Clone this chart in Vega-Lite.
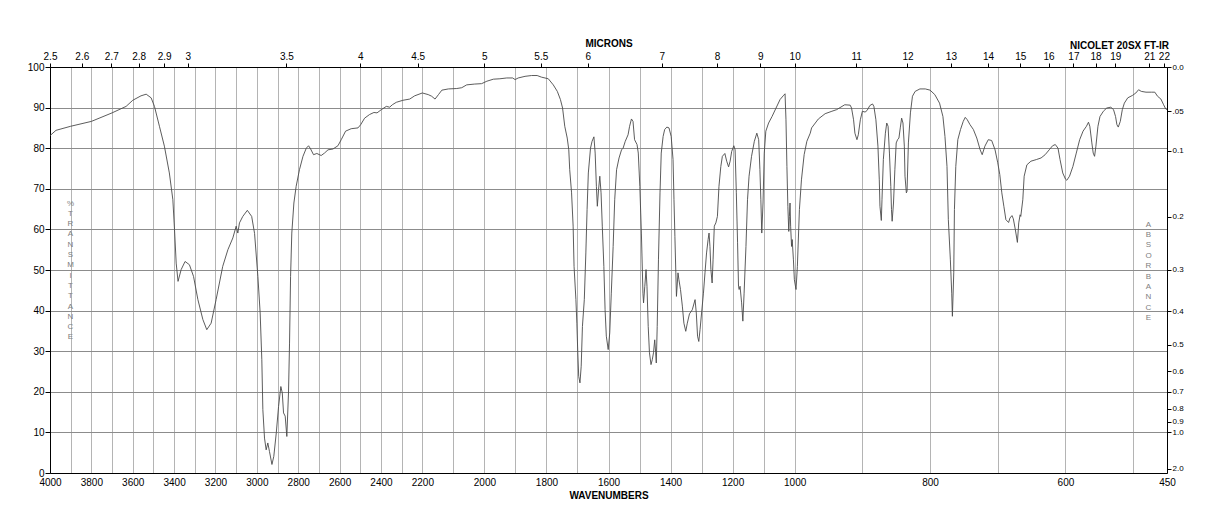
{
  "$schema": "https://vega.github.io/schema/vega-lite/v6.json",
  "autosize": {"type": "none"},
  "padding": {"left": 50, "top": 67, "right": 51, "bottom": 55},
  "width": 1117,
  "height": 406,
  "background": "white",
  "config": {"view": {"stroke": null}, "font": "Liberation Sans"},
  "title": {"text": "NICOLET 20SX FT-IR", "anchor": "end", "frame": "group", "fontSize": 10, "fontWeight": "bold", "color": "#000", "font": "Liberation Sans", "offset": 2, "dy": 15, "dx": 2},
  "data": {"values": [
    {"wn":4000,"t":83.1},{"wn":3971,"t":84.4},{"wn":3900,"t":85.4},{"wn":3800,"t":86.6},{"wn":3700,"t":88.7},{"wn":3632,"t":90.3},{"wn":3600,"t":91.8},{"wn":3560,"t":92.9},{"wn":3535,"t":93.3},{"wn":3511,"t":92.4},{"wn":3495,"t":90.3},{"wn":3471,"t":85.4},{"wn":3447,"t":80.5},{"wn":3423,"t":73.9},{"wn":3406,"t":67.3},{"wn":3398,"t":59.9},{"wn":3390,"t":51.7},{"wn":3381,"t":47.2},{"wn":3366,"t":50.1},{"wn":3347,"t":52.1},{"wn":3326,"t":51.3},{"wn":3306,"t":48.4},{"wn":3285,"t":42.7},{"wn":3261,"t":37.8},{"wn":3242,"t":35.3},{"wn":3221,"t":36.9},{"wn":3197,"t":42.7},{"wn":3165,"t":50.9},{"wn":3140,"t":55.0},{"wn":3116,"t":57.9},{"wn":3100,"t":60.8},{"wn":3092,"t":59.1},{"wn":3084,"t":61.6},{"wn":3068,"t":63.2},{"wn":3046,"t":64.7},{"wn":3025,"t":63.2},{"wn":3011,"t":59.0},{"wn":2995,"t":48.4},{"wn":2984,"t":39.4},{"wn":2976,"t":27.9},{"wn":2971,"t":15.6},{"wn":2963,"t":8.6},{"wn":2955,"t":5.7},{"wn":2947,"t":7.4},{"wn":2939,"t":5.3},{"wn":2927,"t":2.1},{"wn":2918,"t":4.1},{"wn":2906,"t":9.9},{"wn":2895,"t":16.4},{"wn":2884,"t":21.3},{"wn":2877,"t":19.7},{"wn":2871,"t":14.8},{"wn":2863,"t":14.0},{"wn":2855,"t":9.0},{"wn":2847,"t":19.7},{"wn":2842,"t":32.0},{"wn":2837,"t":48.4},{"wn":2831,"t":59.1},{"wn":2821,"t":66.5},{"wn":2810,"t":70.6},{"wn":2794,"t":74.7},{"wn":2777,"t":78.0},{"wn":2761,"t":80.0},{"wn":2750,"t":80.6},{"wn":2740,"t":79.8},{"wn":2726,"t":78.4},{"wn":2710,"t":78.7},{"wn":2689,"t":78.2},{"wn":2673,"t":78.8},{"wn":2656,"t":79.6},{"wn":2632,"t":79.8},{"wn":2608,"t":80.6},{"wn":2592,"t":82.1},{"wn":2571,"t":84.2},{"wn":2544,"t":84.8},{"wn":2511,"t":85.0},{"wn":2498,"t":85.8},{"wn":2479,"t":87.4},{"wn":2455,"t":88.3},{"wn":2434,"t":88.8},{"wn":2419,"t":88.7},{"wn":2398,"t":89.5},{"wn":2374,"t":90.3},{"wn":2358,"t":90.1},{"wn":2345,"t":90.7},{"wn":2326,"t":91.3},{"wn":2294,"t":91.8},{"wn":2261,"t":92.1},{"wn":2237,"t":92.9},{"wn":2200,"t":93.6},{"wn":2181,"t":93.2},{"wn":2170,"t":92.8},{"wn":2159,"t":92.1},{"wn":2148,"t":93.2},{"wn":2137,"t":94.3},{"wn":2116,"t":94.6},{"wn":2089,"t":94.7},{"wn":2073,"t":94.9},{"wn":2057,"t":95.6},{"wn":2031,"t":95.8},{"wn":2009,"t":95.9},{"wn":1992,"t":96.5},{"wn":1971,"t":97.0},{"wn":1950,"t":97.1},{"wn":1928,"t":97.3},{"wn":1909,"t":97.3},{"wn":1901,"t":96.9},{"wn":1891,"t":97.3},{"wn":1869,"t":97.7},{"wn":1848,"t":97.9},{"wn":1830,"t":97.9},{"wn":1816,"t":97.5},{"wn":1794,"t":97.1},{"wn":1778,"t":95.6},{"wn":1765,"t":94.0},{"wn":1755,"t":92.0},{"wn":1748,"t":89.9},{"wn":1741,"t":85.4},{"wn":1733,"t":82.5},{"wn":1728,"t":79.6},{"wn":1725,"t":74.7},{"wn":1719,"t":69.0},{"wn":1714,"t":60.8},{"wn":1711,"t":50.9},{"wn":1705,"t":42.7},{"wn":1702,"t":36.9},{"wn":1699,"t":29.6},{"wn":1696,"t":23.8},{"wn":1692,"t":22.2},{"wn":1688,"t":26.3},{"wn":1684,"t":36.1},{"wn":1678,"t":42.7},{"wn":1673,"t":54.2},{"wn":1669,"t":64.9},{"wn":1665,"t":73.9},{"wn":1658,"t":80.0},{"wn":1653,"t":81.7},{"wn":1647,"t":82.8},{"wn":1643,"t":78.8},{"wn":1639,"t":70.6},{"wn":1636,"t":65.7},{"wn":1632,"t":69.8},{"wn":1628,"t":73.1},{"wn":1624,"t":69.0},{"wn":1620,"t":60.8},{"wn":1615,"t":50.9},{"wn":1611,"t":40.2},{"wn":1607,"t":33.7},{"wn":1601,"t":30.4},{"wn":1596,"t":34.5},{"wn":1591,"t":44.3},{"wn":1585,"t":55.8},{"wn":1580,"t":67.3},{"wn":1574,"t":74.7},{"wn":1566,"t":77.6},{"wn":1558,"t":79.6},{"wn":1553,"t":80.0},{"wn":1546,"t":81.7},{"wn":1537,"t":83.3},{"wn":1532,"t":85.4},{"wn":1526,"t":87.2},{"wn":1521,"t":86.6},{"wn":1516,"t":82.1},{"wn":1508,"t":80.9},{"wn":1504,"t":78.8},{"wn":1499,"t":70.6},{"wn":1494,"t":59.1},{"wn":1489,"t":44.3},{"wn":1487,"t":41.9},{"wn":1483,"t":46.0},{"wn":1479,"t":50.1},{"wn":1476,"t":46.0},{"wn":1472,"t":36.1},{"wn":1468,"t":29.6},{"wn":1463,"t":26.7},{"wn":1459,"t":27.9},{"wn":1455,"t":29.6},{"wn":1451,"t":32.8},{"wn":1448,"t":29.6},{"wn":1446,"t":27.1},{"wn":1443,"t":36.1},{"wn":1439,"t":52.5},{"wn":1434,"t":69.0},{"wn":1430,"t":78.8},{"wn":1424,"t":82.9},{"wn":1419,"t":84.6},{"wn":1412,"t":85.2},{"wn":1405,"t":85.0},{"wn":1398,"t":82.9},{"wn":1392,"t":77.2},{"wn":1389,"t":67.3},{"wn":1386,"t":58.3},{"wn":1383,"t":49.3},{"wn":1381,"t":43.5},{"wn":1376,"t":49.3},{"wn":1373,"t":47.6},{"wn":1368,"t":45.2},{"wn":1362,"t":41.1},{"wn":1357,"t":36.9},{"wn":1351,"t":34.9},{"wn":1346,"t":36.9},{"wn":1339,"t":39.2},{"wn":1330,"t":40.2},{"wn":1321,"t":42.7},{"wn":1317,"t":39.4},{"wn":1313,"t":33.7},{"wn":1309,"t":32.4},{"wn":1305,"t":35.3},{"wn":1300,"t":39.4},{"wn":1294,"t":44.3},{"wn":1289,"t":49.3},{"wn":1284,"t":54.2},{"wn":1279,"t":57.5},{"wn":1276,"t":59.1},{"wn":1273,"t":55.8},{"wn":1270,"t":50.1},{"wn":1266,"t":46.8},{"wn":1263,"t":52.5},{"wn":1259,"t":60.8},{"wn":1254,"t":61.6},{"wn":1249,"t":63.2},{"wn":1244,"t":70.6},{"wn":1238,"t":75.5},{"wn":1233,"t":78.0},{"wn":1225,"t":78.7},{"wn":1219,"t":76.8},{"wn":1213,"t":75.4},{"wn":1208,"t":76.8},{"wn":1203,"t":79.2},{"wn":1196,"t":80.6},{"wn":1192,"t":79.6},{"wn":1188,"t":69.0},{"wn":1184,"t":56.7},{"wn":1181,"t":46.0},{"wn":1179,"t":45.2},{"wn":1176,"t":46.0},{"wn":1171,"t":41.9},{"wn":1167,"t":37.4},{"wn":1163,"t":44.3},{"wn":1157,"t":55.8},{"wn":1152,"t":67.3},{"wn":1147,"t":73.1},{"wn":1139,"t":78.0},{"wn":1130,"t":81.7},{"wn":1122,"t":83.7},{"wn":1116,"t":82.1},{"wn":1112,"t":74.7},{"wn":1109,"t":67.3},{"wn":1106,"t":59.1},{"wn":1102,"t":66.5},{"wn":1098,"t":78.8},{"wn":1093,"t":84.2},{"wn":1084,"t":86.2},{"wn":1073,"t":87.8},{"wn":1060,"t":89.9},{"wn":1047,"t":92.0},{"wn":1037,"t":92.9},{"wn":1031,"t":93.4},{"wn":1028,"t":87.0},{"wn":1025,"t":75.5},{"wn":1022,"t":65.7},{"wn":1019,"t":59.5},{"wn":1017,"t":63.2},{"wn":1015,"t":66.5},{"wn":1013,"t":60.8},{"wn":1010,"t":55.8},{"wn":1008,"t":57.5},{"wn":1004,"t":52.5},{"wn":1001,"t":47.6},{"wn":998,"t":45.2},{"wn":996,"t":50.9},{"wn":993,"t":64.9},{"wn":990,"t":72.2},{"wn":986,"t":78.4},{"wn":982,"t":81.7},{"wn":977,"t":83.7},{"wn":975,"t":85.0},{"wn":965,"t":87.2},{"wn":955,"t":88.5},{"wn":945,"t":89.1},{"wn":938,"t":89.5},{"wn":930,"t":90.3},{"wn":926,"t":90.7},{"wn":918,"t":90.6},{"wn":916,"t":89.9},{"wn":913,"t":87.0},{"wn":911,"t":83.7},{"wn":908,"t":82.1},{"wn":906,"t":83.3},{"wn":903,"t":87.0},{"wn":900,"t":89.1},{"wn":896,"t":88.9},{"wn":893,"t":89.3},{"wn":889,"t":90.5},{"wn":885,"t":90.9},{"wn":883,"t":90.3},{"wn":880,"t":87.0},{"wn":877,"t":80.5},{"wn":875,"t":72.2},{"wn":874,"t":65.7},{"wn":872,"t":62.2},{"wn":871,"t":67.3},{"wn":869,"t":77.2},{"wn":866,"t":83.7},{"wn":864,"t":86.2},{"wn":862,"t":85.4},{"wn":860,"t":78.8},{"wn":858,"t":70.6},{"wn":857,"t":64.9},{"wn":856,"t":62.0},{"wn":854,"t":66.5},{"wn":852,"t":74.7},{"wn":850,"t":81.3},{"wn":848,"t":82.1},{"wn":846,"t":82.5},{"wn":844,"t":85.0},{"wn":842,"t":87.4},{"wn":840,"t":86.2},{"wn":838,"t":80.5},{"wn":837,"t":73.1},{"wn":835,"t":69.0},{"wn":834,"t":69.4},{"wn":832,"t":81.3},{"wn":829,"t":88.7},{"wn":826,"t":92.8},{"wn":822,"t":94.0},{"wn":815,"t":94.6},{"wn":807,"t":94.6},{"wn":800,"t":94.3},{"wn":793,"t":93.2},{"wn":786,"t":91.1},{"wn":781,"t":87.8},{"wn":778,"t":82.9},{"wn":775,"t":75.5},{"wn":773,"t":62.4},{"wn":770,"t":52.5},{"wn":768,"t":44.3},{"wn":767,"t":38.6},{"wn":765,"t":49.3},{"wn":764,"t":64.9},{"wn":762,"t":75.5},{"wn":759,"t":82.1},{"wn":755,"t":84.6},{"wn":751,"t":86.6},{"wn":748,"t":87.6},{"wn":745,"t":87.0},{"wn":741,"t":85.8},{"wn":736,"t":84.6},{"wn":731,"t":82.5},{"wn":726,"t":79.6},{"wn":723,"t":78.4},{"wn":719,"t":80.5},{"wn":714,"t":82.1},{"wn":709,"t":81.9},{"wn":704,"t":79.6},{"wn":700,"t":76.4},{"wn":697,"t":73.5},{"wn":694,"t":69.0},{"wn":691,"t":65.7},{"wn":688,"t":62.4},{"wn":684,"t":61.7},{"wn":682,"t":62.8},{"wn":679,"t":63.4},{"wn":677,"t":62.6},{"wn":674,"t":59.9},{"wn":671,"t":56.8},{"wn":669,"t":61.6},{"wn":667,"t":63.6},{"wn":666,"t":63.2},{"wn":663,"t":67.3},{"wn":661,"t":73.1},{"wn":657,"t":75.9},{"wn":651,"t":76.8},{"wn":643,"t":77.2},{"wn":636,"t":77.6},{"wn":630,"t":78.4},{"wn":624,"t":79.6},{"wn":619,"t":80.6},{"wn":615,"t":80.9},{"wn":611,"t":80.0},{"wn":608,"t":77.2},{"wn":604,"t":73.9},{"wn":600,"t":72.4},{"wn":598,"t":72.1},{"wn":594,"t":73.1},{"wn":589,"t":75.5},{"wn":584,"t":78.8},{"wn":579,"t":82.1},{"wn":574,"t":84.2},{"wn":569,"t":85.4},{"wn":566,"t":86.4},{"wn":564,"t":85.4},{"wn":561,"t":81.3},{"wn":559,"t":78.8},{"wn":557,"t":78.0},{"wn":555,"t":80.5},{"wn":552,"t":85.4},{"wn":549,"t":87.8},{"wn":544,"t":89.1},{"wn":539,"t":89.9},{"wn":533,"t":90.1},{"wn":529,"t":89.5},{"wn":526,"t":87.8},{"wn":524,"t":85.8},{"wn":522,"t":85.2},{"wn":519,"t":86.6},{"wn":516,"t":89.5},{"wn":513,"t":91.1},{"wn":508,"t":92.4},{"wn":501,"t":93.0},{"wn":496,"t":93.6},{"wn":492,"t":94.4},{"wn":488,"t":94.0},{"wn":481,"t":93.8},{"wn":473,"t":93.8},{"wn":468,"t":93.8},{"wn":464,"t":92.8},{"wn":459,"t":92.1},{"wn":455,"t":90.7},{"wn":452,"t":89.7},{"wn":450,"t":89.5}
  ]},
  "layer": [
    {
      "mark": {"type": "line", "color": "#4a4a4a", "strokeWidth": 0.9},
      "encoding": {
        "x": {
          "field": "wn", "type": "quantitative",
          "scale": {"type": "linear", "domain": [4000, 2200, 1000, 450], "range": [0, 372.33, 744.67, 1117], "nice": false, "zero": false},
          "axis": {
            "orient": "bottom", "title": "WAVENUMBERS", "titleFontSize": 10, "titleFontWeight": "bold", "titleColor": "#000", "titlePadding": 3,
            "values": [4000,3900,3800,3700,3600,3500,3400,3300,3200,3100,3000,2900,2800,2700,2600,2500,2400,2300,2200,2100,2000,1900,1800,1700,1600,1500,1400,1300,1200,1100,1000,900,800,700,600,500,450],
            "format": "d",
            "labelExpr": "(datum.value % 200 == 0 || datum.value == 450) ? datum.label : ''",
            "labelFontSize": 10, "labelColor": "#000", "labelPadding": 4, "labelFlush": false, "labelOverlap": false,
            "ticks": false, "tickSize": 0,
            "grid": true, "gridColor": "#b4b4b4", "gridWidth": 1,
            "domainColor": "#000", "domainWidth": 1
          }
        },
        "y": {
          "field": "t", "type": "quantitative",
          "scale": {"domain": [0, 100], "nice": false, "zero": false},
          "axis": {
            "orient": "left", "values": [0,10,20,30,40,50,60,70,80,90,100],
            "labelFontSize": 10, "labelColor": "#000", "labelPadding": 1, "labelFlush": false, "labelOverlap": false,
            "ticks": true, "tickSize": 5, "tickColor": "#000",
            "grid": true, "gridColor": "#8c8c8c", "gridWidth": 1,
            "domainColor": "#000", "domainWidth": 1,
            "title": ["%", "T", "R", "A", "N", "S", "M", "I", "T", "T", "A", "N", "C", "E"],
            "titleAngle": 0, "titleFontSize": 8, "titleFontWeight": "normal", "titleColor": "#808080",
            "titleLineHeight": 10.3, "titleAlign": "center", "titleBaseline": "middle",
            "titleX": 20, "titleY": 136
          }
        }
      }
    },
    {
      "mark": {"type": "line", "opacity": 0},
      "encoding": {
        "x": {
          "field": "wn", "type": "quantitative",
          "scale": {"type": "linear", "domain": [4000, 2200, 1000, 450], "range": [0, 372.33, 744.67, 1117], "nice": false, "zero": false},
          "axis": {
            "orient": "top", "title": "MICRONS", "titleFontSize": 10, "titleFontWeight": "bold", "titleColor": "#000", "titlePadding": 3,
            "values": [4000, 3846.154, 3703.704, 3571.429, 3448.276, 3333.333, 2857.143, 2500, 2222.222, 2000, 1818.182, 1666.667, 1428.571, 1250, 1111.111, 1000, 909.091, 833.333, 769.231, 714.286, 666.667, 625, 588.235, 555.556, 526.316, 476.190, 454.545],
            "labelExpr": "'' + round(100000 / datum.value) / 10",
            "labelFontSize": 10, "labelColor": "#000", "labelPadding": 2, "labelFlush": false, "labelOverlap": false,
            "ticks": true, "tickSize": 4, "tickColor": "#000",
            "grid": false, "domainColor": "#000", "domainWidth": 1
          }
        },
        "y": {
          "field": "t", "type": "quantitative",
          "scale": {"domain": [0, 100], "nice": false, "zero": false},
          "axis": {
            "orient": "right",
            "values": [100, 89.125, 79.433, 63.096, 50.119, 39.811, 31.623, 25.119, 19.953, 15.849, 12.589, 10, 1],
            "labelExpr": "(datum.value > 85 && datum.value < 95) ? '.05' : format(abs(log(datum.value / 100)) / LN10, '.1f')",
            "labelFontSize": 8, "labelColor": "#000", "labelPadding": 1, "labelFlush": false, "labelOverlap": false,
            "ticks": true, "tickSize": 4, "tickColor": "#000",
            "grid": false, "domainColor": "#000", "domainWidth": 1,
            "title": ["A", "B", "S", "O", "R", "B", "A", "N", "C", "E"],
            "titleAngle": 0, "titleFontSize": 8, "titleFontWeight": "normal", "titleColor": "#808080",
            "titleLineHeight": 10.4, "titleAlign": "center", "titleBaseline": "middle",
            "titleX": -19, "titleY": 157
          }
        }
      }
    }
  ],
  "resolve": {"axis": {"x": "independent", "y": "independent"}}
}
